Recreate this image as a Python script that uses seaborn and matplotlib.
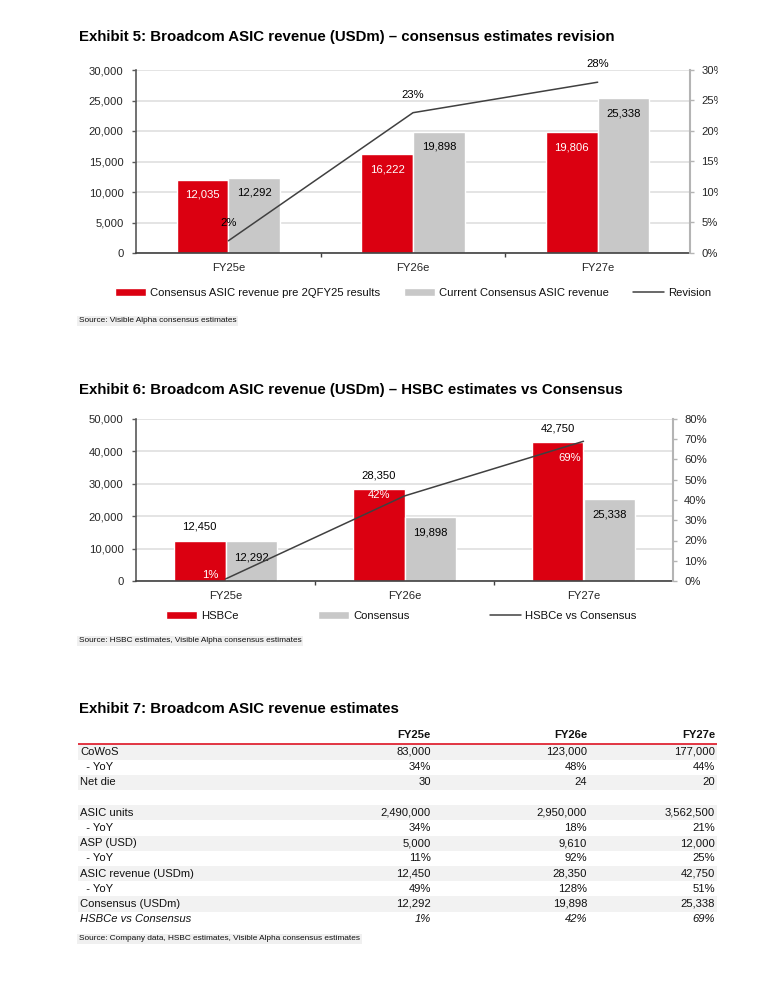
import numpy as np
import pandas as pd
import matplotlib
matplotlib.use('Agg')
import matplotlib.pyplot as plt
import seaborn as sns
from matplotlib import font_manager
from matplotlib.lines import Line2D
from matplotlib.patches import Patch
from matplotlib.ticker import FuncFormatter, PercentFormatter
from matplotlib.transforms import Bbox, TransformedBbox

years = ['FY25e', 'FY26e', 'FY27e']

# Exhibit 5: consensus revision
cons_pre = [12035, 16222, 19806]
cons_now = [12292, 19898, 25338]
revision = [0.02, 0.23, 0.28]

# Exhibit 6: HSBC vs consensus
hsbc = [12450, 28350, 42750]
consensus = [12292, 19898, 25338]
hsbc_vs_cons = [0.01, 0.42, 0.69]

# Exhibit 7: table
row_labels = ['CoWoS', '  - YoY', 'Net die', '', 'ASIC units', '  - YoY', 'ASP (USD)', '  - YoY',
              'ASIC revenue (USDm)', '  - YoY', 'Consensus (USDm)', 'HSBCe vs Consensus']
col_fy25 = ['83,000', '34%', '30', '', '2,490,000', '34%', '5,000', '11%', '12,450', '49%', '12,292', '1%']
col_fy26 = ['123,000', '48%', '24', '', '2,950,000', '18%', '9,610', '92%', '28,350', '128%', '19,898', '42%']
col_fy27 = ['177,000', '44%', '20', '', '3,562,500', '21%', '12,000', '25%', '42,750', '51%', '25,338', '69%']

RED = '#db0011'
GREY = '#c8c8c8'
LINE = '#404040'
W, H = 760, 981

sns.set_style('white')
names = {f.name for f in font_manager.fontManager.ttflist}
if 'Liberation Sans Narrow' in names:
    NARROW, FS = 'Liberation Sans Narrow', 9.4
elif 'Noto Sans Condensed' in names:
    NARROW, FS = 'Noto Sans Condensed', 8.8
else:
    NARROW, FS = 'Liberation Sans', 8.1
plt.rcParams['font.family'] = [NARROW, 'DejaVu Sans']
plt.rcParams['font.size'] = FS
plt.rcParams['text.color'] = '#111111'
EM = FS * 100 / 72  # font size in pixels


def rect(x0, y0, x1, y1):
    return [x0 / W, 1 - y1 / H, (x1 - x0) / W, (y1 - y0) / H]


def fy(y):
    return 1 - y / H


def title(y, txt):
    fig.text(79 / W, fy(y), txt, fontsize=10.8, fontweight='bold', va='center',
             family=['Liberation Sans', 'DejaVu Sans'], color='black')


def source(y, txt):
    fig.text(79 / W, fy(y), txt, fontsize=FS * 0.73, va='center',
             bbox=dict(facecolor='#f0f0f0', edgecolor='none', pad=1.2))


def style_axes(ax, ax2, ymax, ystep, pmax, pstep):
    ax.set_xlim(-0.5, 2.5)
    ax.set_ylim(0, ymax)
    ax.set_yticks(np.arange(0, ymax + 1, ystep))
    ax.yaxis.set_major_formatter(FuncFormatter(lambda v, p: f'{v:,.0f}'))
    ax.set_xlabel('')
    ax.set_ylabel('')
    ax.yaxis.grid(True, color='#dcdcdc', lw=1.1)
    ax.set_axisbelow(True)
    ax.tick_params(axis='y', direction='out', length=3, width=1, color='#595959', pad=6, labelsize=FS, left=True)
    ax.tick_params(axis='x', which='major', length=0, pad=7, labelsize=FS)
    ax.set_xticks([0.5, 1.5], minor=True)
    ax.tick_params(axis='x', which='minor', direction='out', length=3, width=1, color='#404040', bottom=True)
    ax.spines['top'].set_visible(False)
    ax.spines['right'].set_visible(False)
    ax.spines['left'].set_color('#595959')
    ax.spines['left'].set_linewidth(1.2)
    ax.spines['bottom'].set_color('#404040')
    ax.spines['bottom'].set_linewidth(1.2)

    ax2.set_ylim(0, pmax)
    ax2.set_yticks(np.arange(0, pmax + 1e-9, pstep))
    ax2.yaxis.set_major_formatter(PercentFormatter(1, decimals=0))
    ax2.set_ylabel('')
    for s in ['top', 'left', 'bottom']:
        ax2.spines[s].set_visible(False)
    ax2.spines['right'].set_color('#b4b4b4')
    ax2.spines['right'].set_linewidth(1.5)
    ax2.tick_params(axis='y', direction='out', length=3, width=1, color='#b4b4b4', pad=5, labelsize=FS, right=True)


def bar_labels(bars, color, offset):
    for r in bars:
        ax_ = r.axes
        ax_.annotate(f'{r.get_height():,.0f}', (r.get_x() + r.get_width() / 2, r.get_height()),
                     xytext=(0, offset), textcoords='offset points', ha='center', va='center',
                     color=color, fontsize=FS)


def legend(handles, labels, cx, cy, gap_px):
    fig.legend(handles, labels, loc='center', bbox_to_anchor=(cx / W, fy(cy)), ncol=3, frameon=False,
               handlelength=31 / EM, handleheight=7.5 / EM, handletextpad=4 / EM,
               columnspacing=gap_px / EM, borderpad=0, borderaxespad=0, fontsize=FS)


fig = plt.figure(figsize=(W / 100, H / 100), dpi=100)

# ---------------- Exhibit 5 ----------------
title(37, 'Exhibit 5: Broadcom ASIC revenue (USDm) \u2013 consensus estimates revision')
ax = fig.add_axes(rect(136, 70, 690, 253))
df5 = pd.DataFrame({
    'year': years * 2,
    'value': cons_pre + cons_now,
    'series': ['pre'] * 3 + ['now'] * 3,
})
sns.barplot(data=df5, x='year', y='value', hue='series', palette=[RED, GREY], width=0.56,
            saturation=1, legend=False, ax=ax)
ax2 = ax.twinx()
sns.lineplot(x=np.arange(len(years)), y=revision, color=LINE, lw=1.1, ax=ax2)
style_axes(ax, ax2, 30000, 5000, 0.30, 0.05)
bar_labels(ax.containers[0], 'white', -11)
bar_labels(ax.containers[1], 'black', -10.5)
for i, v in enumerate(revision):
    ax2.annotate(f'{v:.0%}', (i, v), xytext=(0, 13), textcoords='offset points',
                 ha='center', va='center', color='black', fontsize=FS)

# the source image is cut just past the right-hand tick labels
clip = TransformedBbox(Bbox.from_extents(0, 0, 718 / W, 1), fig.transFigure)
for lbl in ax2.get_yticklabels():
    lbl.set_clip_box(clip)
    lbl.set_clip_on(True)

h5 = [Patch(facecolor=RED), Patch(facecolor=GREY), Line2D([], [], color=LINE, lw=1.1)]
legend(h5, ['Consensus ASIC revenue pre 2QFY25 results', 'Current Consensus ASIC revenue', 'Revision'],
       413, 293, 24)
source(321, 'Source: Visible Alpha consensus estimates')

# ---------------- Exhibit 6 ----------------
title(390, 'Exhibit 6: Broadcom ASIC revenue (USDm) \u2013 HSBC estimates vs Consensus')
bx = fig.add_axes(rect(136, 419, 673, 581))
df6 = pd.DataFrame({
    'year': years * 2,
    'value': hsbc + consensus,
    'series': ['HSBCe'] * 3 + ['Consensus'] * 3,
})
sns.barplot(data=df6, x='year', y='value', hue='series', palette=[RED, GREY], width=0.575,
            saturation=1, legend=False, ax=bx)
bx2 = bx.twinx()
sns.lineplot(x=np.arange(len(years)), y=hsbc_vs_cons, color=LINE, lw=1.1, ax=bx2)
style_axes(bx, bx2, 50000, 10000, 0.80, 0.10)
bar_labels(bx.containers[0], 'black', 10)
bar_labels(bx.containers[1], 'black', -11.5)
pct_offsets = [(-11, 3), (-18, 1), (-10, -12)]
for i, v in enumerate(hsbc_vs_cons):
    bx2.annotate(f'{v:.0%}', (i, v), xytext=pct_offsets[i], textcoords='offset points',
                 ha='center', va='center', color='white', fontsize=FS)

h6 = [Patch(facecolor=RED), Patch(facecolor=GREY), Line2D([], [], color=LINE, lw=1.1)]
legend(h6, ['HSBCe', 'Consensus', 'HSBCe vs Consensus'], 401, 616, 80)
source(641, 'Source: HSBC estimates, Visible Alpha consensus estimates')

# ---------------- Exhibit 7 ----------------
title(709, 'Exhibit 7: Broadcom ASIC revenue estimates')
row_h = 15.2
top = 752 - 1.6 * row_h
bot = 752 + 11.5 * row_h
tx = fig.add_axes(rect(78, top, 717, bot))
tx.set_xlim(78, 717)
tx.set_ylim(11.5, -1.6)
tx.axis('off')
col_x = [431, 587, 715]
for i, lab in enumerate(row_labels):
    if i % 2 == 0 and lab:
        tx.axhspan(i - 0.5, i + 0.5, color='#f2f2f2', lw=0)
    style = 'italic' if lab.startswith('HSBCe') else 'normal'
    tx.text(80, i, lab, ha='left', va='center', fontsize=FS, fontstyle=style)
    for x, col in zip(col_x, [col_fy25, col_fy26, col_fy27]):
        tx.text(x, i, col[i], ha='right', va='center', fontsize=FS, fontstyle=style)
for x, yr in zip(col_x, years):
    tx.text(x, -1.12, yr, ha='right', va='center', fontsize=FS, fontweight='bold')
tx.axhline(-0.5, color=RED, lw=1.1)
source(939, 'Source: Company data, HSBC estimates, Visible Alpha consensus estimates')

fig.savefig('out.png', dpi=100)
